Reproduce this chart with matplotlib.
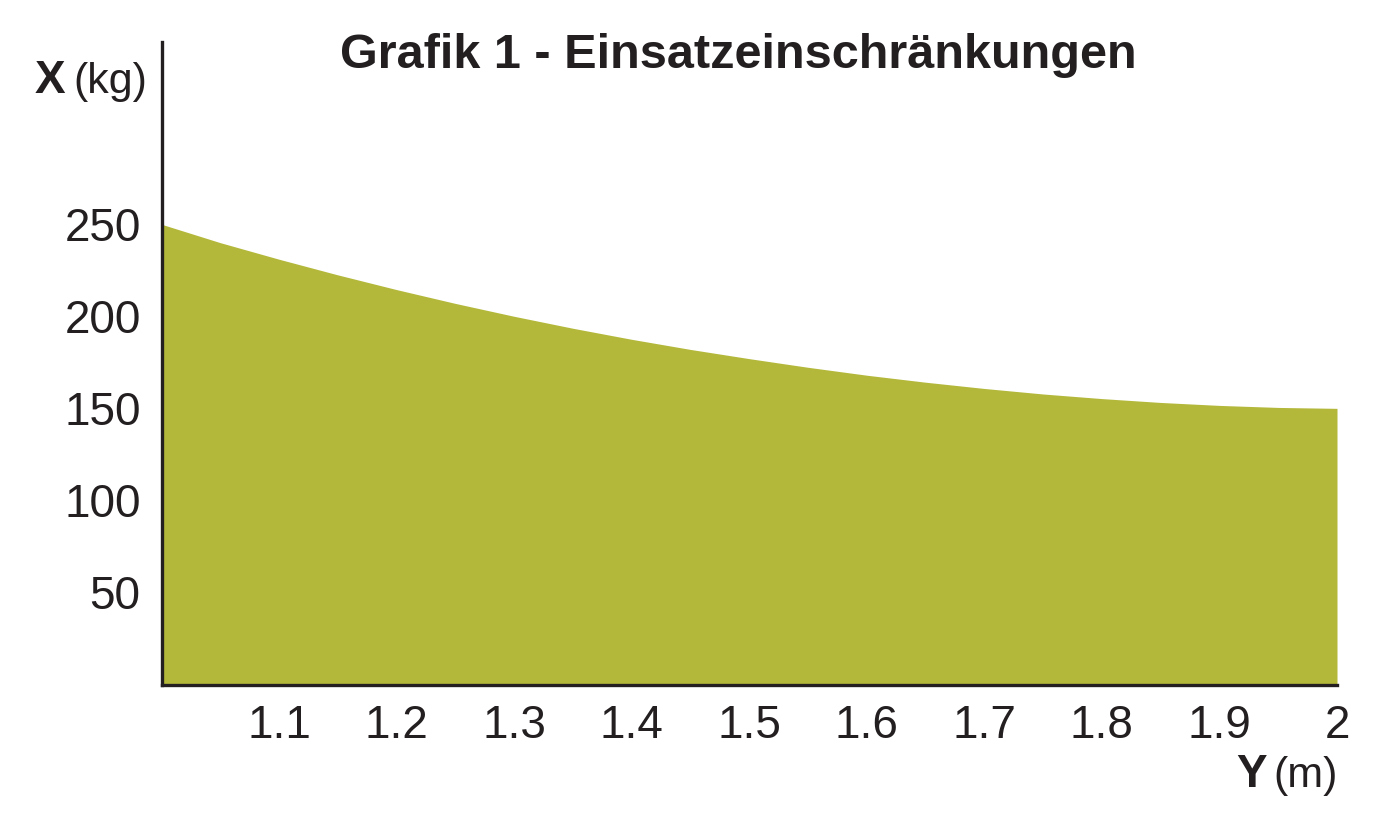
import matplotlib
matplotlib.use("Agg")
import matplotlib.pyplot as plt

plt.rcParams['font.family'] = ['Liberation Sans', 'DejaVu Sans']

# Data
y_m = [1.0, 1.05, 1.1, 1.15, 1.2, 1.25, 1.3, 1.35, 1.4, 1.45, 1.5,
       1.55, 1.6, 1.65, 1.7, 1.75, 1.8, 1.85, 1.9, 1.95, 2.0]
x_kg = [250, 240, 231, 222.5, 214.5, 207, 200, 193.5, 187.5, 182, 177,
        172.3, 168, 164.2, 160.8, 157.8, 155.3, 153.2, 151.6, 150.5, 150]
xticks = [1.1, 1.2, 1.3, 1.4, 1.5, 1.6, 1.7, 1.8, 1.9, 2.0]
xtick_labels = ["1.1", "1.2", "1.3", "1.4", "1.5", "1.6", "1.7", "1.8", "1.9", "2"]
yticks = [50, 100, 150, 200, 250]
ytick_labels = ["50", "100", "150", "200", "250"]
title = "Grafik 1 - Einsatzeinschränkungen"

W, H = 1389, 815
fig = plt.figure(figsize=(W / 100, H / 100), dpi=100)
ax = fig.add_axes([161.5 / W, 1 - 684.5 / H, (1337 - 161.5) / W, (684.5 - 42) / H])

dark = "#231f20"
fill = "#b3b83a"

ax.fill_between(y_m, x_kg, 0, color=fill, linewidth=0)
ax.set_xlim(1.0, 2.0)
ax.set_ylim(0, 349)

for s in ["top", "right"]:
    ax.spines[s].set_visible(False)
for s in ["left", "bottom"]:
    ax.spines[s].set_color(dark)
    ax.spines[s].set_linewidth(2.4)
    ax.spines[s].set_capstyle("projecting")

ax.set_xticks(xticks)
ax.set_xticklabels(xtick_labels)
ax.set_yticks(yticks)
ax.set_yticklabels(ytick_labels)
ax.tick_params(axis="both", length=0, labelsize=33, colors=dark)
ax.tick_params(axis="y", pad=15)
ax.tick_params(axis="x", pad=14)

fig.text(738 / W, 1 - 68 / H, title, ha="center", va="baseline",
         fontsize=35, fontweight="bold", color=dark)

# Axis labels: bold letter + regular unit
fig.text(147 / W, 1 - 93 / H, "(kg)", ha="right", va="baseline", fontsize=31, color=dark)
fig.text(65 / W, 1 - 93 / H, "X", ha="right", va="baseline", fontsize=33,
         fontweight="bold", color=dark)
fig.text(1338 / W, 1 - 787 / H, "(m)", ha="right", va="baseline", fontsize=31, color=dark)
fig.text(1267 / W, 1 - 787 / H, "Y", ha="right", va="baseline", fontsize=33,
         fontweight="bold", color=dark)

fig.savefig("out.png", dpi=100)
